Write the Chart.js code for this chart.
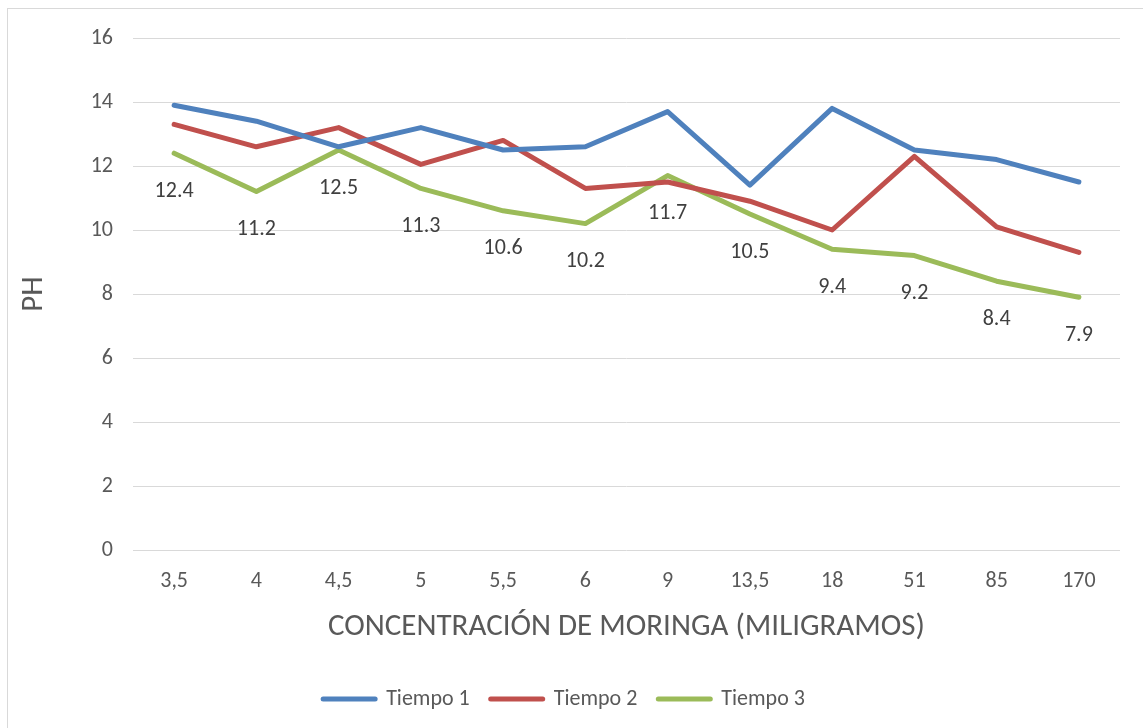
<!DOCTYPE html>
<html>
<head>
<meta charset="utf-8">
<script src="https://cdn.jsdelivr.net/npm/chart.js@4.4.1/dist/chart.umd.min.js"></script>
<style>
  html, body { margin: 0; padding: 0; background: #fff; }
  #frame { position: absolute; left: 7px; top: 8px; width: 1140px; height: 725px; border: 1px solid #d9d9d9; box-sizing: border-box; }
  #wrap { position: absolute; left: 0; top: 0; width: 1143px; height: 728px; }
</style>
</head>
<body>
<div id="frame"></div>
<div id="wrap"><canvas id="chart" width="1143" height="728"></canvas></div>
<script>
'use strict';

// ── Data ──────────────────────────────────────────────────────────────────
var categories = ['3,5', '4', '4,5', '5', '5,5', '6', '9', '13,5', '18', '51', '85', '170'];
var tiempo1 = [13.9, 13.4, 12.6, 13.2, 12.5, 12.6, 13.7, 11.4, 13.8, 12.5, 12.2, 11.5];
var tiempo2 = [13.3, 12.6, 13.2, 12.05, 12.8, 11.3, 11.5, 10.9, 10.0, 12.3, 10.1, 9.3];
var tiempo3 = [12.4, 11.2, 12.5, 11.3, 10.6, 10.2, 11.7, 10.5, 9.4, 9.2, 8.4, 7.9];
var seriesNames = ['Tiempo 1', 'Tiempo 2', 'Tiempo 3'];

var FONT = 'Carlito, Calibri, Lato, sans-serif';
var TEXT = '#595959';

// ── Data labels for the third series (drawn below each point) ─────────────
var belowLabels = {
  id: 'belowLabels',
  afterDatasetsDraw: function (chart) {
    var ctx = chart.ctx;
    var meta = chart.getDatasetMeta(2);
    ctx.save();
    ctx.font = '22px ' + FONT;
    ctx.fillStyle = '#404040';
    ctx.textAlign = 'center';
    ctx.textBaseline = 'middle';
    meta.data.forEach(function (pt, i) {
      ctx.fillText(String(tiempo3[i]), pt.x, pt.y + 38);
    });
    ctx.restore();
  }
};

function line(label, data, color) {
  return {
    label: label,
    data: data,
    borderColor: color,
    backgroundColor: color,
    borderWidth: 5,
    borderJoinStyle: 'round',
    borderCapStyle: 'round',
    pointRadius: 0,
    pointHoverRadius: 0,
    tension: 0,
    fill: false
  };
}

new Chart(document.getElementById('chart'), {
  type: 'line',
  data: {
    labels: categories,
    datasets: [
      line(seriesNames[0], tiempo1, '#4F81BD'),
      line(seriesNames[1], tiempo2, '#C0504D'),
      line(seriesNames[2], tiempo3, '#9BBB59')
    ]
  },
  plugins: [belowLabels],
  options: {
    responsive: false,
    animation: false,
    layout: { padding: { left: 8, right: 23, top: 38, bottom: 8 } },
    scales: {
      x: {
        offset: true,
        grid: { display: false },
        border: { display: false },
        ticks: { color: TEXT, font: { family: FONT, size: 22 }, padding: 10, maxRotation: 0 },
        title: {
          display: true,
          text: 'CONCENTRACIÓN DE MORINGA (MILIGRAMOS)',
          color: TEXT,
          font: { family: FONT, size: 31 },
          padding: { top: 0, bottom: 21 }
        },
        afterFit: function (scale) { scale.height = 117; }
      },
      y: {
        min: 0,
        max: 16,
        ticks: { stepSize: 2, color: TEXT, font: { family: FONT, size: 22 }, padding: 20 },
        grid: { color: '#d9d9d9', lineWidth: 1, drawTicks: false },
        border: { display: false },
        title: {
          display: true,
          text: 'PH',
          color: TEXT,
          font: { family: FONT, size: 31 },
          padding: { top: 8, bottom: 0 }
        },
        afterFit: function (scale) { scale.width = 125; }
      }
    },
    plugins: {
      tooltip: { enabled: false },
      legend: {
        position: 'bottom',
        labels: {
          color: TEXT,
          font: { family: FONT, size: 22 },
          usePointStyle: true,
          pointStyle: 'line',
          pointStyleWidth: 52,
          padding: 21,
          generateLabels: function (chart) {
            return chart.data.datasets.map(function (ds, i) {
              return {
                text: ds.label,
                fillStyle: ds.borderColor,
                strokeStyle: ds.borderColor,
                lineWidth: 5,
                lineCap: 'round',
                pointStyle: 'line',
                fontColor: TEXT,
                datasetIndex: i
              };
            });
          }
        }
      }
    }
  }
});
</script>
</body>
</html>
